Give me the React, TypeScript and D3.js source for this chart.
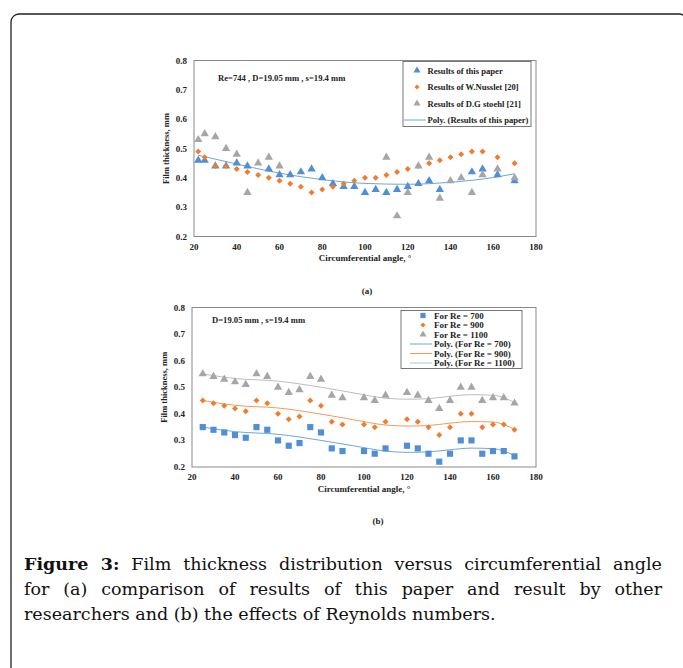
import React, { useLayoutEffect, useRef, useState } from 'react'
import * as d3 from 'd3'

// (a) comparison with other researchers
const paperAngles = [22, 25, 30, 35, 40, 45, 55, 60, 65, 70, 75, 80, 85, 90, 95, 100, 105, 110, 115, 120, 125, 130, 135, 150, 155, 162, 170]
const paperValues = [0.46, 0.46, 0.44, 0.44, 0.45, 0.44, 0.43, 0.41, 0.41, 0.42, 0.43, 0.40, 0.38, 0.37, 0.37, 0.35, 0.36, 0.35, 0.36, 0.37, 0.38, 0.39, 0.36, 0.42, 0.43, 0.41, 0.39]
const nusseltAngles = [22, 25, 30, 35, 40, 45, 50, 55, 60, 65, 70, 75, 80, 85, 90, 95, 100, 105, 110, 115, 120, 125, 130, 135, 140, 145, 150, 155, 162, 170]
const nusseltValues = [0.49, 0.47, 0.44, 0.44, 0.43, 0.42, 0.41, 0.40, 0.39, 0.38, 0.37, 0.35, 0.36, 0.37, 0.38, 0.39, 0.40, 0.40, 0.41, 0.42, 0.43, 0.44, 0.45, 0.46, 0.47, 0.48, 0.49, 0.49, 0.47, 0.45]
const stoehlAngles = [22, 25, 30, 35, 40, 45, 50, 55, 60, 110, 115, 120, 125, 130, 135, 140, 145, 150, 155, 162, 170]
const stoehlValues = [0.53, 0.55, 0.54, 0.50, 0.48, 0.35, 0.45, 0.47, 0.44, 0.47, 0.27, 0.35, 0.44, 0.47, 0.33, 0.39, 0.40, 0.35, 0.41, 0.43, 0.40]
const paperTrendAngles = [22, 40, 60, 80, 100, 120, 140, 160, 170]
const paperTrendValues = [0.477, 0.447, 0.416, 0.394, 0.381, 0.378, 0.385, 0.401, 0.414]

// (b) effect of Reynolds number
const reAngles = [25, 30, 35, 40, 45, 50, 55, 60, 65, 70, 75, 80, 85, 90, 100, 105, 110, 120, 125, 130, 135, 140, 145, 150, 155, 160, 165, 170]
const re700 = [0.35, 0.34, 0.33, 0.32, 0.31, 0.35, 0.34, 0.30, 0.28, 0.29, 0.35, 0.33, 0.27, 0.26, 0.26, 0.25, 0.27, 0.28, 0.27, 0.25, 0.22, 0.25, 0.30, 0.30, 0.25, 0.26, 0.26, 0.24]
const re900 = [0.45, 0.44, 0.43, 0.42, 0.41, 0.45, 0.44, 0.40, 0.38, 0.39, 0.45, 0.43, 0.37, 0.36, 0.36, 0.35, 0.37, 0.38, 0.37, 0.35, 0.32, 0.35, 0.40, 0.40, 0.35, 0.36, 0.36, 0.34]
const re1100 = [0.55, 0.54, 0.53, 0.52, 0.51, 0.55, 0.54, 0.50, 0.48, 0.49, 0.54, 0.53, 0.47, 0.46, 0.46, 0.45, 0.47, 0.48, 0.47, 0.45, 0.42, 0.45, 0.50, 0.50, 0.45, 0.46, 0.46, 0.44]
const reTrendAngles = [25, 40, 60, 80, 95, 110, 120, 130, 140, 150, 160, 170]
const trend700 = [0.350, 0.333, 0.323, 0.300, 0.280, 0.260, 0.255, 0.257, 0.265, 0.271, 0.269, 0.243]
const trend900 = [0.450, 0.432, 0.422, 0.399, 0.378, 0.358, 0.354, 0.356, 0.365, 0.371, 0.369, 0.342]
const trend1100 = [0.550, 0.533, 0.523, 0.500, 0.479, 0.459, 0.455, 0.457, 0.466, 0.472, 0.470, 0.443]

const xTicks = [20, 40, 60, 80, 100, 120, 140, 160, 180]
const yTicks = [0.2, 0.3, 0.4, 0.5, 0.6, 0.7, 0.8]

const legendA = ['Results of this paper', 'Results of W.Nusslet [20]', 'Results of D.G stoehl [21]', 'Poly. (Results of this paper)']
const legendB = ['For Re = 700', 'For Re = 900', 'For Re = 1100', 'Poly. (For Re = 700)', 'Poly. (For Re = 900)', 'Poly. (For Re = 1100)']

const captionLines = [
  'Film thickness distribution versus circumferential angle',
  'for (a) comparison of results of this paper and result by other',
  'researchers and (b) the effects of Reynolds numbers.',
]

const BLUE = '#4f8fd6'
const ORANGE = '#f07d2e'
const GRAY = '#a6a6a6'
const FONT = "'Liberation Serif', 'Times New Roman', serif"
const CAPTION_FONT = "'DejaVu Serif', serif"

const tri = d3.symbol(d3.symbolTriangle, 30)()
const diamond = d3.symbol(d3.symbolSquare, 18)()
const square = d3.symbol(d3.symbolSquare, 38)()

type Series = { xs: number[]; ys: number[]; shape: string; color: string; rotate?: number }
type Trend = { xs: number[]; ys: number[]; color: string }

const Panel = ({ left, right, top, bottom, series, trends, note, noteX, noteY, legend, legendBox, legendRow0, legendStep, legendMarkX, legendTextX, legendFont, markers, lineColors }: any) => {
  const x = d3.scaleLinear().domain([20, 180]).range([left, right])
  const y = d3.scaleLinear().domain([0.2, 0.8]).range([bottom, top])
  const line = d3.line<[number, number]>().x(d => x(d[0])).y(d => y(d[1])).curve(d3.curveMonotoneX)
  return (
    <g fontFamily={FONT} fontWeight="bold">
      <rect x={left} y={top} width={right - left} height={bottom - top} fill="none" stroke="#8a8a8a" strokeWidth={1} />
      {yTicks.map(t => (
        <text key={t} x={left - 7} y={y(t) + 3} fontSize={9} textAnchor="end" fill="#222">{t.toFixed(1)}</text>
      ))}
      {xTicks.map(t => (
        <text key={t} x={x(t)} y={bottom + 13} fontSize={9} textAnchor="middle" fill="#222">{t}</text>
      ))}
      <text x={(left + right) / 2} y={bottom + 24.5} fontSize={9} textAnchor="middle" fill="#222">Circumferential  angle, °</text>
      <text transform={`translate(${left - 25},${(top + bottom) / 2}) rotate(-90)`} fontSize={8.5} textAnchor="middle" fill="#222">Film thickness, mm</text>
      <text x={noteX} y={noteY} fontSize={8.6} fill="#222">{note}</text>
      {trends.map((tr: Trend, i: number) => (
        <path key={i} d={line(tr.xs.map((v, j) => [v, tr.ys[j]]) as [number, number][]) || ''} fill="none" stroke={tr.color} strokeWidth={1} />
      ))}
      {series.map((s: Series, i: number) => (
        <g key={i} fill={s.color}>
          {s.xs.map((v, j) => (
            <path key={j} d={s.shape} transform={`translate(${x(v)},${y(s.ys[j])}) rotate(${s.rotate || 0})`} />
          ))}
        </g>
      ))}
      <rect x={legendBox[0]} y={legendBox[1]} width={legendBox[2]} height={legendBox[3]} fill="#fff" stroke="#555" strokeWidth={0.8} />
      {legend.map((label: string, i: number) => {
        const cy = legendRow0 + i * legendStep
        const m = markers[i]
        return (
          <g key={label}>
            {m ? (
              <path d={m.shape} fill={m.color} transform={`translate(${legendMarkX},${cy}) rotate(${m.rotate || 0}) scale(0.85)`} />
            ) : (
              <line x1={legendMarkX - 13} x2={legendMarkX + 9} y1={cy} y2={cy} stroke={lineColors[i]} strokeWidth={1} />
            )}
            <text x={legendTextX} y={cy + 3} fontSize={legendFont} fill="#222">{label}</text>
          </g>
        )
      })}
    </g>
  )
}

const JustifiedLine = ({ x, y, width, children, justify }: any) => {
  const ref = useRef<SVGTextElement>(null)
  const [spacing, setSpacing] = useState(0)
  useLayoutEffect(() => {
    if (!justify || !ref.current) return
    const node = ref.current
    node.setAttribute('word-spacing', '0')
    const natural = node.getComputedTextLength()
    const text = node.textContent || ''
    const gaps = (text.match(/ /g) || []).length
    if (gaps > 0) setSpacing((width - natural) / gaps)
  }, [])
  return (
    <text ref={ref} x={x} y={y} fontSize={17.5} fontFamily={CAPTION_FONT} fill="#111" wordSpacing={justify ? spacing : 0}>
      {children}
    </text>
  )
}

const App = () => {
  return (
    <svg width={683} height={668} style={{ position: 'absolute', left: 0, top: 0, background: '#fff' }}>
      <rect x={11} y={14} width={676} height={720} rx={8} fill="#fff" stroke="#222" strokeWidth={1.3} />
      <Panel
        left={194} right={536} top={60.5} bottom={236.5}
        series={[
          { xs: paperAngles, ys: paperValues, shape: tri, color: BLUE },
          { xs: nusseltAngles, ys: nusseltValues, shape: diamond, color: ORANGE, rotate: 45 },
          { xs: stoehlAngles, ys: stoehlValues, shape: tri, color: GRAY },
        ]}
        trends={[{ xs: paperTrendAngles, ys: paperTrendValues, color: '#6fa6dc' }]}
        note="Re=744 , D=19.05 mm , s=19.4 mm" noteX={218} noteY={81}
        legend={legendA} legendBox={[403, 61.5, 128, 65]} legendRow0={70.5} legendStep={16.5}
        legendMarkX={417} legendTextX={427.5} legendFont={8.6}
        markers={[{ shape: tri, color: BLUE }, { shape: diamond, color: ORANGE, rotate: 45 }, { shape: tri, color: GRAY }, null]}
        lineColors={[null, null, null, '#6fa6dc']}
      />
      <text x={367} y={294} fontSize={9} fontFamily={FONT} fontWeight="bold" textAnchor="middle" fill="#222">(a)</text>
      <Panel
        left={192} right={536} top={307.5} bottom={467}
        series={[
          { xs: reAngles, ys: re700, shape: square, color: BLUE },
          { xs: reAngles, ys: re900, shape: diamond, color: ORANGE, rotate: 45 },
          { xs: reAngles, ys: re1100, shape: tri, color: GRAY },
        ]}
        trends={[
          { xs: reTrendAngles, ys: trend700, color: '#6fa6dc' },
          { xs: reTrendAngles, ys: trend900, color: '#f39a5c' },
          { xs: reTrendAngles, ys: trend1100, color: '#bdbdbd' },
        ]}
        note="D=19.05 mm , s=19.4 mm" noteX={212} noteY={323}
        legend={legendB} legendBox={[401, 310.5, 121, 58]} legendRow0={315.5} legendStep={9.5}
        legendMarkX={423} legendTextX={434} legendFont={9}
        markers={[{ shape: square, color: BLUE }, { shape: diamond, color: ORANGE, rotate: 45 }, { shape: tri, color: GRAY }, null, null, null]}
        lineColors={[null, null, null, '#6fa6dc', '#f39a5c', '#bdbdbd']}
      />
      <text x={378} y={524} fontSize={9} fontFamily={FONT} fontWeight="bold" textAnchor="middle" fill="#222">(b)</text>
      <JustifiedLine x={24} y={570} width={638} justify>
        <tspan fontWeight="bold">Figure 3:</tspan> {captionLines[0]}
      </JustifiedLine>
      <JustifiedLine x={24} y={595} width={638} justify>{captionLines[1]}</JustifiedLine>
      <JustifiedLine x={24} y={620} width={468}>{captionLines[2]}</JustifiedLine>
    </svg>
  )
}

export default App
